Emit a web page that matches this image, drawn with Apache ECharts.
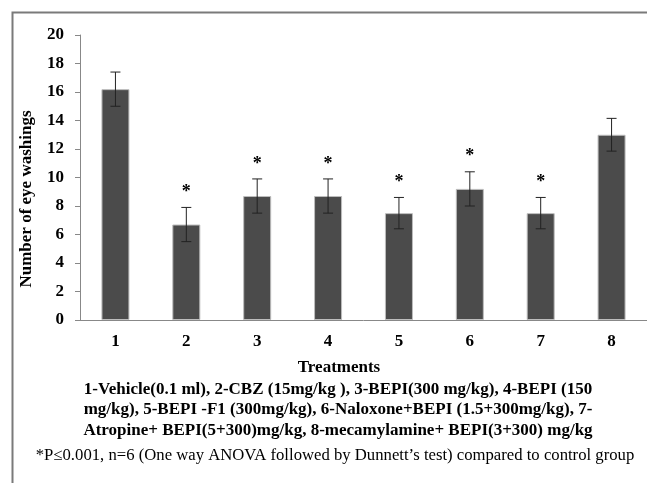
<!DOCTYPE html>
<html><head><meta charset="utf-8">
<script src="https://cdn.jsdelivr.net/npm/echarts@6/dist/echarts.min.js"></script>
<style>html,body{margin:0;padding:0;background:#fff}#c{width:647px;height:483px}</style>
</head><body><div id="c"></div>
<script>
const categories = ['1','2','3','4','5','6','7','8'];
const means = [16.2, 6.7, 8.7, 8.7, 7.5, 9.2, 7.5, 13.0];
const errors = [1.2, 1.2, 1.2, 1.2, 1.1, 1.2, 1.1, 1.15];
const significant = [false, true, true, true, true, true, true, false];
const yTicks = [0,2,4,6,8,10,12,14,16,18,20];
const yTitle = 'Number of eye washings';
const xTitle = 'Treatments';
const captionLines = [
  '1-Vehicle(0.1 ml), 2-CBZ (15mg/kg ), 3-BEPI(300 mg/kg), 4-BEPI (150',
  'mg/kg), 5-BEPI -F1 (300mg/kg), 6-Naloxone+BEPI (1.5+300mg/kg), 7-',
  'Atropine+ BEPI(5+300)mg/kg, 8-mecamylamine+ BEPI(3+300) mg/kg'
];
const footnote = '*P\u22640.001, n=6 (One way ANOVA followed by Dunnett\u2019s test) compared to control group';

const FONT = '"Liberation Serif", "Times New Roman", serif';
const chart = echarts.init(document.getElementById('c'));
const errData = means.map((m,i)=>[i, m, errors[i], significant[i] ? 1 : 0]);
const captionY = [390, 410, 431];
chart.setOption({
  animation:false,
  grid:{left:80, top:35, bottom:163, right:-4},
  xAxis:{type:'category', data:categories,
    axisLine:{lineStyle:{color:'#888', width:1}}, axisTick:{show:false},
    axisLabel:{color:'#000', fontFamily:FONT, fontWeight:'bold', fontSize:17, margin:13}},
  yAxis:{type:'value', min:yTicks[0], max:yTicks[yTicks.length-1], interval:yTicks[1]-yTicks[0],
    axisLine:{show:true, lineStyle:{color:'#888'}}, axisTick:{show:true, length:5, lineStyle:{color:'#888'}},
    splitLine:{show:false},
    axisLabel:{color:'#000', fontFamily:FONT, fontWeight:'bold', fontSize:17, margin:16}},
  series:[
    {type:'bar', data:means, barWidth:28,
      itemStyle:{color:'#4b4b4b', borderColor:'#bdbdbd', borderWidth:1}},
    {type:'custom', data:errData, z:10,
      renderItem:function(params, api){
        const x = api.value(0), m = api.value(1), e = api.value(2), s = api.value(3);
        const top = api.coord([x, m+e]), bot = api.coord([x, m-e]);
        const cx = top[0], hw = 5;
        const children = [
          {type:'line', shape:{x1:cx, y1:top[1], x2:cx, y2:bot[1]}, style:{stroke:'#222', lineWidth:1}},
          {type:'line', shape:{x1:cx-hw, y1:top[1], x2:cx+hw, y2:top[1]}, style:{stroke:'#222', lineWidth:1}},
          {type:'line', shape:{x1:cx-hw, y1:bot[1], x2:cx+hw, y2:bot[1]}, style:{stroke:'#222', lineWidth:1}}
        ];
        if (s) children.push({type:'text', x:cx, y:top[1]-15,
          style:{text:'*', fill:'#000', font:'bold 18px '+FONT, align:'center', verticalAlign:'middle'}});
        return {type:'group', children:children};
      }}
  ],
  graphic:[
    {type:'rect', left:10, top:10, shape:{width:700, height:600}, style:{fill:null, stroke:'#7a7a7a', lineWidth:2}, silent:true},
    {type:'text', x:27, y:199, rotation:Math.PI/2, style:{text:yTitle, font:'bold 17px '+FONT, fill:'#000', align:'center', verticalAlign:'middle'}},
    {type:'text', x:339, y:368, style:{text:xTitle, font:'bold 17px '+FONT, fill:'#000', align:'center', verticalAlign:'middle'}},
    ...captionLines.map((t,i)=>({type:'text', x:338, y:captionY[i], style:{text:t, font:'bold 17px '+FONT, fill:'#000', align:'center', verticalAlign:'middle'}})),
    {type:'text', x:335, y:456, style:{text:footnote, font:'16.7px '+FONT, fill:'#000', align:'center', verticalAlign:'middle'}}
  ]
});
</script></body></html>
